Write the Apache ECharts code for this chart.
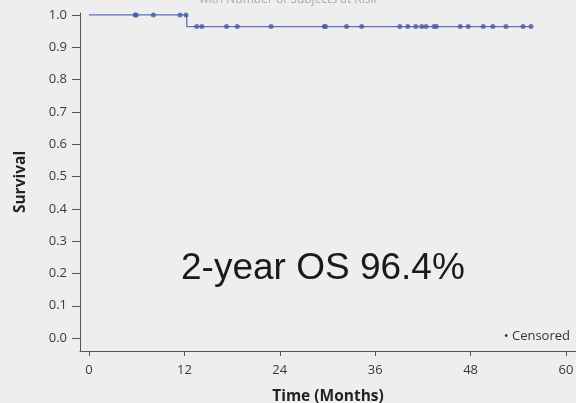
<!DOCTYPE html>
<html>
<head>
<meta charset="utf-8">
<script src="https://cdn.jsdelivr.net/npm/echarts@6/dist/echarts.min.js"></script>
<style>
html,body{margin:0;padding:0;background:#eeeeee;}
#c{width:576px;height:403px;}
</style>
</head>
<body>
<div id="c"></div>
<script>
// Kaplan-Meier step curve
const kmTimes = [0, 12.3, 55.6];
const kmSurvival = [1.0, 0.964, 0.964];
// Censored observations
const censorTimes = [5.8, 5.95, 8.1, 11.45, 12.2, 13.55, 14.2, 17.3, 18.65, 22.9, 29.6, 29.75, 32.4, 34.3, 39.1, 40.1, 41.1, 41.85, 42.4, 43.4, 43.7, 46.7, 47.7, 49.6, 50.8, 52.45, 54.6, 55.6];
const censorSurvival = [1, 1, 1, 1, 1, 0.964, 0.964, 0.964, 0.964, 0.964, 0.964, 0.964, 0.964, 0.964, 0.964, 0.964, 0.964, 0.964, 0.964, 0.964, 0.964, 0.964, 0.964, 0.964, 0.964, 0.964, 0.964, 0.964];
const xTicks = [0, 12, 24, 36, 48, 60];
const yTicks = [0, 0.1, 0.2, 0.3, 0.4, 0.5, 0.6, 0.7, 0.8, 0.9, 1.0];
const annotation = '2-year OS 96.4%';
const legendLabel = 'Censored';
const xName = 'Time (Months)';
const yName = 'Survival';
const subtitle = 'with Number of Subjects at Risk';

const chart = echarts.init(document.getElementById('c'), null, {renderer: 'canvas'});
const axisColor = '#555';
const labelColor = '#3a3a3a';
const uiFont = '"Open Sans", "Noto Sans", sans-serif';

chart.setOption({
  backgroundColor: '#eeeeee',
  animation: false,
  title: {
    text: subtitle, left: 'center', top: -11,
    textStyle: {fontSize: 12, color: '#aaa', fontWeight: 'normal', fontFamily: uiFont}
  },
  grid: {left: 80, right: 0, top: 13, bottom: 52, containLabel: false, outerBoundsMode: 'none'},
  xAxis: {
    type: 'value', min: -1.13, max: 61.26,
    name: xName, nameLocation: 'middle', nameGap: 38,
    nameTextStyle: {fontSize: 15.5, fontWeight: 'bold', color: '#222', fontFamily: uiFont},
    axisLine: {show: true, onZero: false, lineStyle: {color: axisColor, width: 1}},
    axisTick: {show: true, length: 5, customValues: xTicks, lineStyle: {color: axisColor}},
    axisLabel: {customValues: xTicks, margin: 13, fontSize: 13, color: labelColor, fontFamily: uiFont},
    splitLine: {show: false}
  },
  yAxis: {
    type: 'value', min: -0.04, max: 1.006,
    name: yName, nameLocation: 'middle', nameGap: 51, nameRotate: 90,
    nameTextStyle: {fontSize: 15.5, fontWeight: 'bold', color: '#222', fontFamily: uiFont},
    axisLine: {show: true, onZero: false, lineStyle: {color: axisColor, width: 1}},
    axisTick: {show: true, length: 8, customValues: yTicks, lineStyle: {color: axisColor}},
    axisLabel: {customValues: yTicks, margin: 13, fontSize: 13, color: labelColor, fontFamily: uiFont,
      formatter: v => v.toFixed(1)},
    splitLine: {show: false}
  },
  series: [
    {
      type: 'line', step: 'end', symbol: 'none',
      data: kmTimes.map((t, i) => [t, kmSurvival[i]]),
      lineStyle: {color: '#5f72b8', width: 1.3},
      z: 2
    },
    {
      type: 'scatter', symbol: 'circle', symbolSize: 5,
      data: censorTimes.map((t, i) => [t, censorSurvival[i]]),
      itemStyle: {color: '#4a5aa6'},
      z: 3
    }
  ],
  graphic: [
    {
      type: 'text', left: 181, top: 250,
      style: {text: annotation, font: '37px "Liberation Sans", Arial, sans-serif', fill: '#1a1a1a'}
    },
    {
      type: 'text', right: 6, top: 330,
      style: {text: '\u2022 ' + legendLabel, font: '13px "Open Sans", "Noto Sans", sans-serif', fill: '#333'}
    }
  ]
});
</script>
</body>
</html>
